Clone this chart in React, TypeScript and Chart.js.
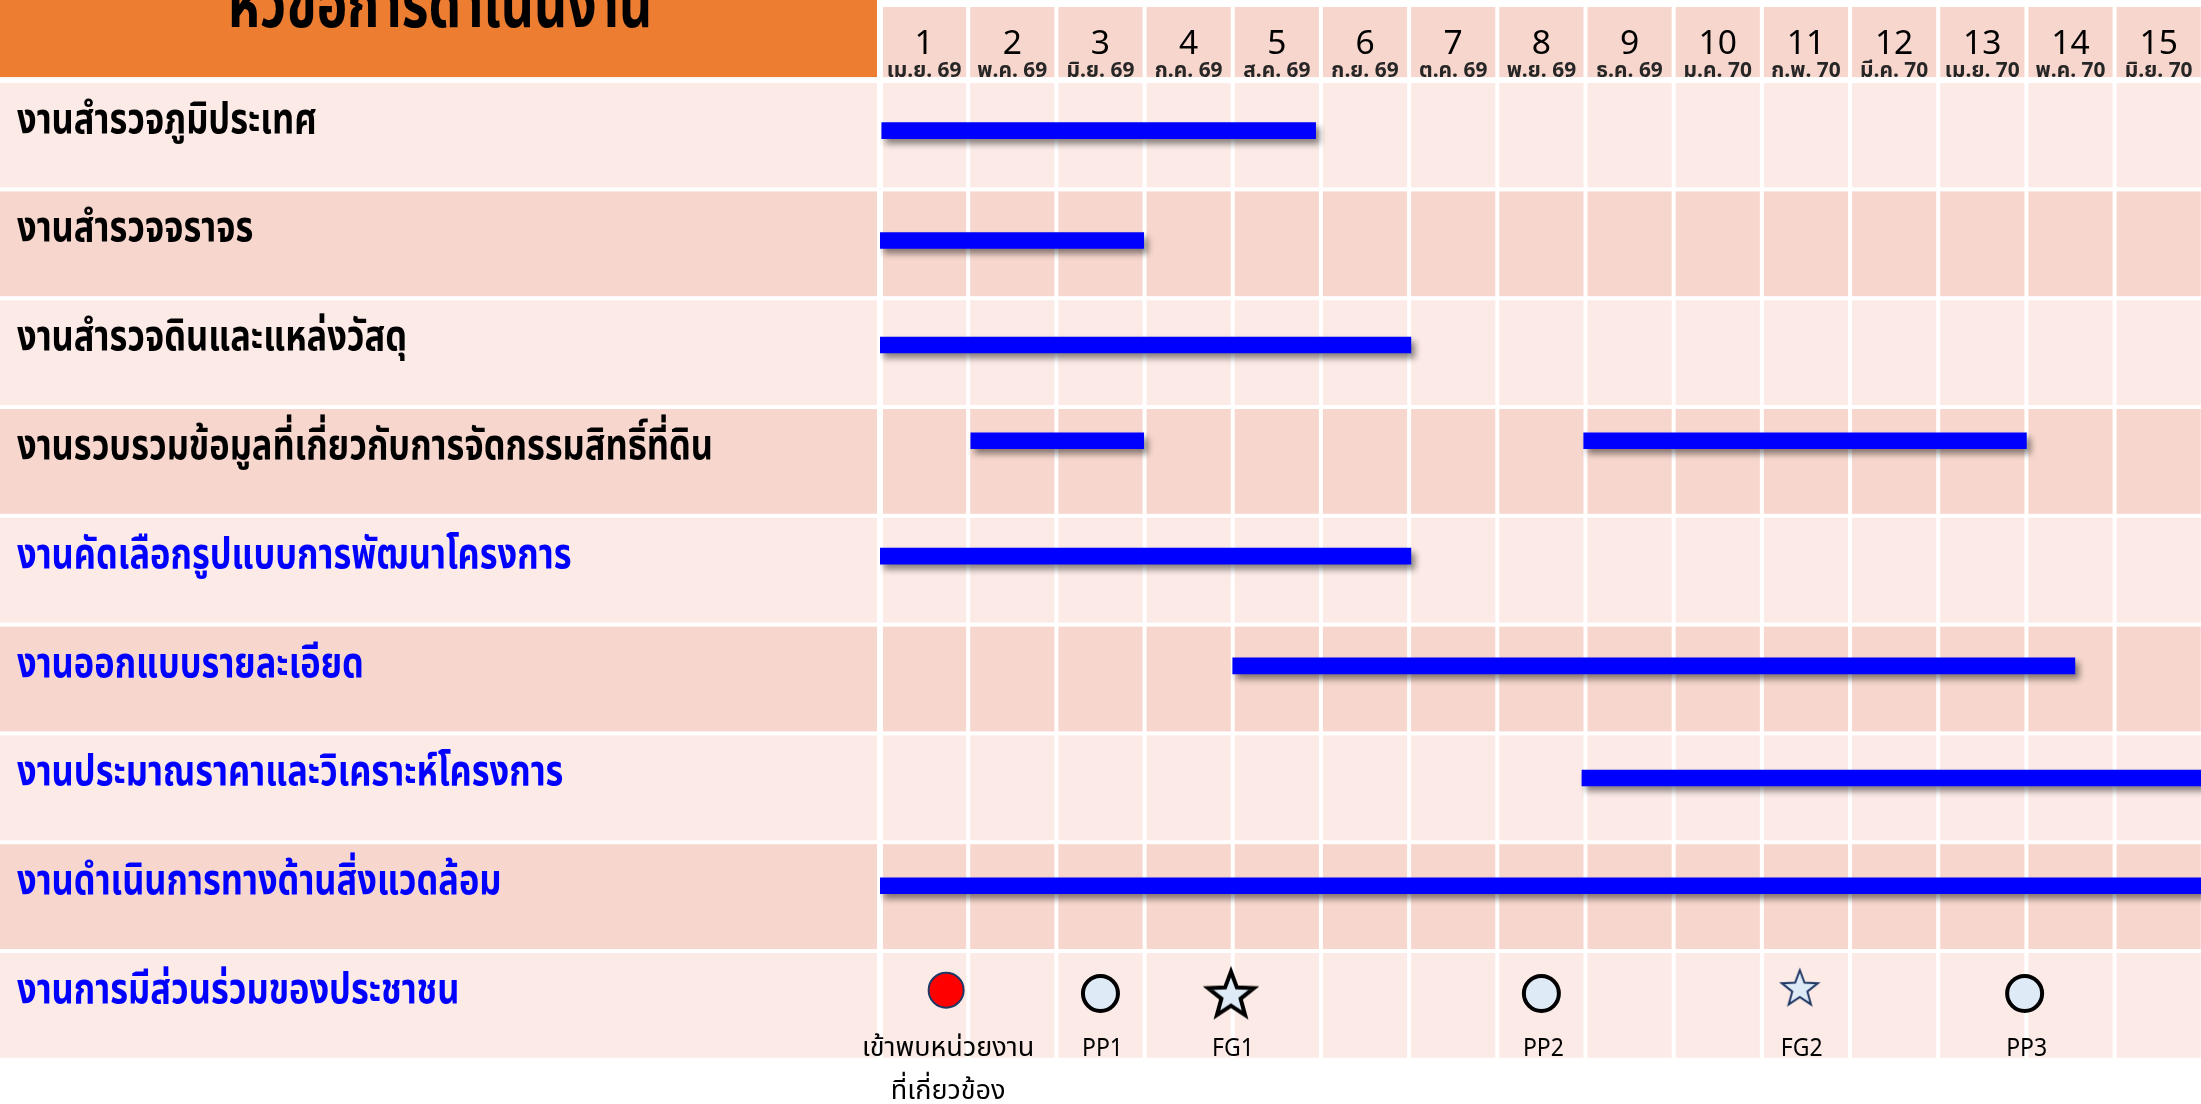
import React, { useEffect, useRef } from 'react';
import { Chart, registerables } from 'chart.js';

Chart.register(...registerables);

// ---------------- DATA ----------------
const headerTitle = 'หัวข้อการดำเนินงาน';
const monthNumbers = ['1', '2', '3', '4', '5', '6', '7', '8', '9', '10', '11', '12', '13', '14', '15'];
const monthLabels = [
  'เม.ย. 69', 'พ.ค. 69', 'มิ.ย. 69', 'ก.ค. 69', 'ส.ค. 69', 'ก.ย. 69', 'ต.ค. 69', 'พ.ย. 69',
  'ธ.ค. 69', 'ม.ค. 70', 'ก.พ. 70', 'มี.ค. 70', 'เม.ย. 70', 'พ.ค. 70', 'มิ.ย. 70',
];
const taskNames = [
  'งานสำรวจภูมิประเทศ',
  'งานสำรวจจราจร',
  'งานสำรวจดินและแหล่งวัสดุ',
  'งานรวบรวมข้อมูลที่เกี่ยวกับการจัดกรรมสิทธิ์ที่ดิน',
  'งานคัดเลือกรูปแบบการพัฒนาโครงการ',
  'งานออกแบบรายละเอียด',
  'งานประมาณราคาและวิเคราะห์โครงการ',
  'งานดำเนินการทางด้านสิ่งแวดล้อม',
  'งานการมีส่วนร่วมของประชาชน',
];
// bars: task row, start month, end month (month 1 spans 0..1)
const barTask = [0, 1, 2, 3, 3, 4, 5, 6, 7];
const barStart = [0.02, 0, 0, 1.03, 7.98, 0, 4.0, 7.96, 0];
const barEnd = [4.94, 2.99, 6.02, 2.99, 13.0, 6.02, 13.55, 15, 15];

// milestones (public participation row)
const milestoneTask = 8;
const milestoneLabels = [['เข้าพบหน่วยงาน', 'ที่เกี่ยวข้อง'], ['PP1'], ['FG1'], ['PP2'], ['FG2'], ['PP3']];
const milestoneMonth = [0.75, 2.5, 3.98, 7.5, 10.43, 12.98];

// ---------------- STYLE ----------------
const FONT = '"Noto Sans Thai", "Noto Sans", "DejaVu Sans", sans-serif';
const ROW_BAR_LIFT = [0.46, 0.47, 0.43, 0.31, 0.37, 0.38, 0.41, 0.40, 0.4];
const MILESTONE_LIFT = [0.36, 0.39, 0.41, 0.39, 0.35, 0.39];
const LIGHT = '#FBEAE6';
const DARK = '#F7D7CD';
const ORANGE = '#ED7D31';
const BLUE_LABEL_FROM = 4;

function makeStar(R: number, ratio: number, fill: string, stroke: string, lw: number) {
  const size = Math.ceil(2 * (R + lw * 2) + 4);
  const c = document.createElement('canvas');
  c.width = size;
  c.height = size;
  const g = c.getContext('2d')!;
  g.translate(size / 2, size / 2);
  g.beginPath();
  for (let i = 0; i < 10; i++) {
    const r = i % 2 === 0 ? R : R * ratio;
    const a = -Math.PI / 2 + (i * Math.PI) / 5;
    if (i === 0) g.moveTo(r * Math.cos(a), r * Math.sin(a));
    else g.lineTo(r * Math.cos(a), r * Math.sin(a));
  }
  g.closePath();
  g.fillStyle = fill;
  g.fill();
  g.lineWidth = lw;
  g.lineJoin = 'miter';
  g.miterLimit = 10;
  g.strokeStyle = stroke;
  g.stroke();
  return c;
}

function squeezeText(ctx: CanvasRenderingContext2D, text: string, x: number, y: number, sx: number) {
  ctx.save();
  ctx.translate(x, y);
  ctx.scale(sx, 1);
  ctx.fillText(text, 0, 0);
  ctx.restore();
}

export default function App() {
  const ref = useRef<HTMLCanvasElement | null>(null);

  useEffect(() => {
    document.body.style.margin = '0';
    document.body.style.overflow = 'hidden';
    const canvas = ref.current!;
    const bigStar = makeStar(24, 0.42, '#DEEBF7', '#000000', 4);
    const smallStar = makeStar(19, 0.42, '#DEEBF7', '#1F3864', 2);

    const barData = barTask.map((t, i) => ({ x: [barStart[i], barEnd[i]], y: t + ROW_BAR_LIFT[t] }));
    const msData = milestoneMonth.map((m, i) => ({ x: m, y: milestoneTask + MILESTONE_LIFT[i] }));

    const background = {
      id: 'ganttBackground',
      beforeDraw(chart: any) {
        const { ctx, scales } = chart;
        const x = scales.x;
        const y = scales.y;
        ctx.save();
        ctx.fillStyle = '#ffffff';
        ctx.fillRect(0, 0, chart.width, chart.height);
        const left0 = x.getPixelForValue(0);
        const top0 = y.getPixelForValue(0);
        ctx.fillStyle = ORANGE;
        ctx.fillRect(0, 0, left0 - 3, top0 - 3.5);
        for (let c = 0; c < monthNumbers.length; c++) {
          const a = x.getPixelForValue(c) + (c === 0 ? 3 : 2);
          const b = x.getPixelForValue(c + 1) - 2;
          ctx.fillStyle = DARK;
          ctx.fillRect(a, 7, b - a, top0 - 3.5 - 7);
        }
        for (let r = 0; r < taskNames.length; r++) {
          const t = y.getPixelForValue(r) + (r === 0 ? 2.5 : 2);
          const bt = y.getPixelForValue(r + 1) - 2;
          ctx.fillStyle = r % 2 === 0 ? LIGHT : DARK;
          ctx.fillRect(0, t, left0 - 3, bt - t);
          for (let c = 0; c < monthNumbers.length; c++) {
            const a = x.getPixelForValue(c) + (c === 0 ? 3 : 2);
            const b = x.getPixelForValue(c + 1) - 2;
            ctx.fillRect(a, t, b - a, bt - t);
          }
        }
        ctx.restore();
      },
      beforeDatasetDraw(chart: any, args: any) {
        if (args.index !== 0) return;
        const ctx = chart.ctx;
        ctx.save();
        ctx.shadowColor = 'rgba(0,0,0,0.45)';
        ctx.shadowOffsetX = 4;
        ctx.shadowOffsetY = 5;
        ctx.shadowBlur = 6;
      },
      afterDatasetDraw(chart: any, args: any) {
        if (args.index !== 0) return;
        chart.ctx.restore();
      },
      afterDraw(chart: any) {
        const { ctx, scales } = chart;
        const x = scales.x;
        const y = scales.y;
        const left0 = x.getPixelForValue(0);
        ctx.save();
        ctx.textAlign = 'center';
        ctx.textBaseline = 'alphabetic';
        ctx.fillStyle = '#000';
        ctx.font = `bold 66px ${FONT}`;
        squeezeText(ctx, headerTitle, left0 / 2, 27, 0.78);
        for (let c = 0; c < monthNumbers.length; c++) {
          const cx = (x.getPixelForValue(c) + x.getPixelForValue(c + 1)) / 2;
          ctx.fillStyle = '#000';
          ctx.font = `32px ${FONT}`;
          squeezeText(ctx, monthNumbers[c], cx, 54, 1.05);
          ctx.fillStyle = '#262626';
          ctx.font = `bold 22px ${FONT}`;
          squeezeText(ctx, monthLabels[c], cx, 76.5, 0.95);
        }
        ctx.textAlign = 'left';
        ctx.font = `bold 43px ${FONT}`;
        for (let r = 0; r < taskNames.length; r++) {
          ctx.fillStyle = r >= BLUE_LABEL_FROM ? '#0000FF' : '#000000';
          squeezeText(ctx, taskNames[r], 17, y.getPixelForValue(r) + 52, 0.8);
        }
        const meta = chart.getDatasetMeta(1);
        ctx.textAlign = 'center';
        ctx.fillStyle = '#000';
        const rowTop = y.getPixelForValue(milestoneTask);
        meta.data.forEach((el: any, i: number) => {
          milestoneLabels[i].forEach((line, k) => {
            const thai = /[\u0E00-\u0E7F]/.test(line);
            ctx.font = thai ? `27px ${FONT}` : `25px ${FONT}`;
            squeezeText(ctx, line, el.x + 2, rowTop + 105 + k * 43, thai ? 1 : 0.92);
          });
        });
        ctx.restore();
      },
    };

    const chart = new Chart(canvas, {
      type: 'scatter',
      data: {
        datasets: [
          {
            type: 'bar',
            indexAxis: 'y',
            data: barData as any,
            backgroundColor: '#0000FF',
            borderWidth: 0,
            barThickness: 16,
            grouped: false,
          } as any,
          {
            type: 'scatter',
            data: msData,
            pointStyle: ['circle', 'circle', bigStar, 'circle', smallStar, 'circle'] as any,
            pointRadius: [17.5, 17.5, 20, 17.5, 20, 17.5],
            backgroundColor: ['#FF0000', '#DEEBF7', '#DEEBF7', '#DEEBF7', '#DEEBF7', '#DEEBF7'],
            borderColor: ['#1F3864', '#000000', '#000000', '#000000', '#1F3864', '#000000'],
            borderWidth: [2, 4, 4, 4, 2, 4],
            clip: false,
          } as any,
        ],
      },
      options: {
        animation: false,
        responsive: false,
        events: [],
        layout: { autoPadding: false, padding: { left: 880, top: 80.6, right: 0, bottom: 1104 - 1059.8 } },
        plugins: { legend: { display: false }, tooltip: { enabled: false } },
        scales: {
          x: { type: 'linear', min: 0, max: 14.98, display: false, offset: false },
          y: { type: 'linear', min: 0, max: 9, reverse: true, display: false, offset: false },
        },
      },
      plugins: [background],
    });
    return () => chart.destroy();
  }, []);

  return (
    <div style={{ width: 2201, height: 1104 }}>
      <canvas ref={ref} width={2201} height={1104} style={{ display: 'block' }} />
    </div>
  );
}
